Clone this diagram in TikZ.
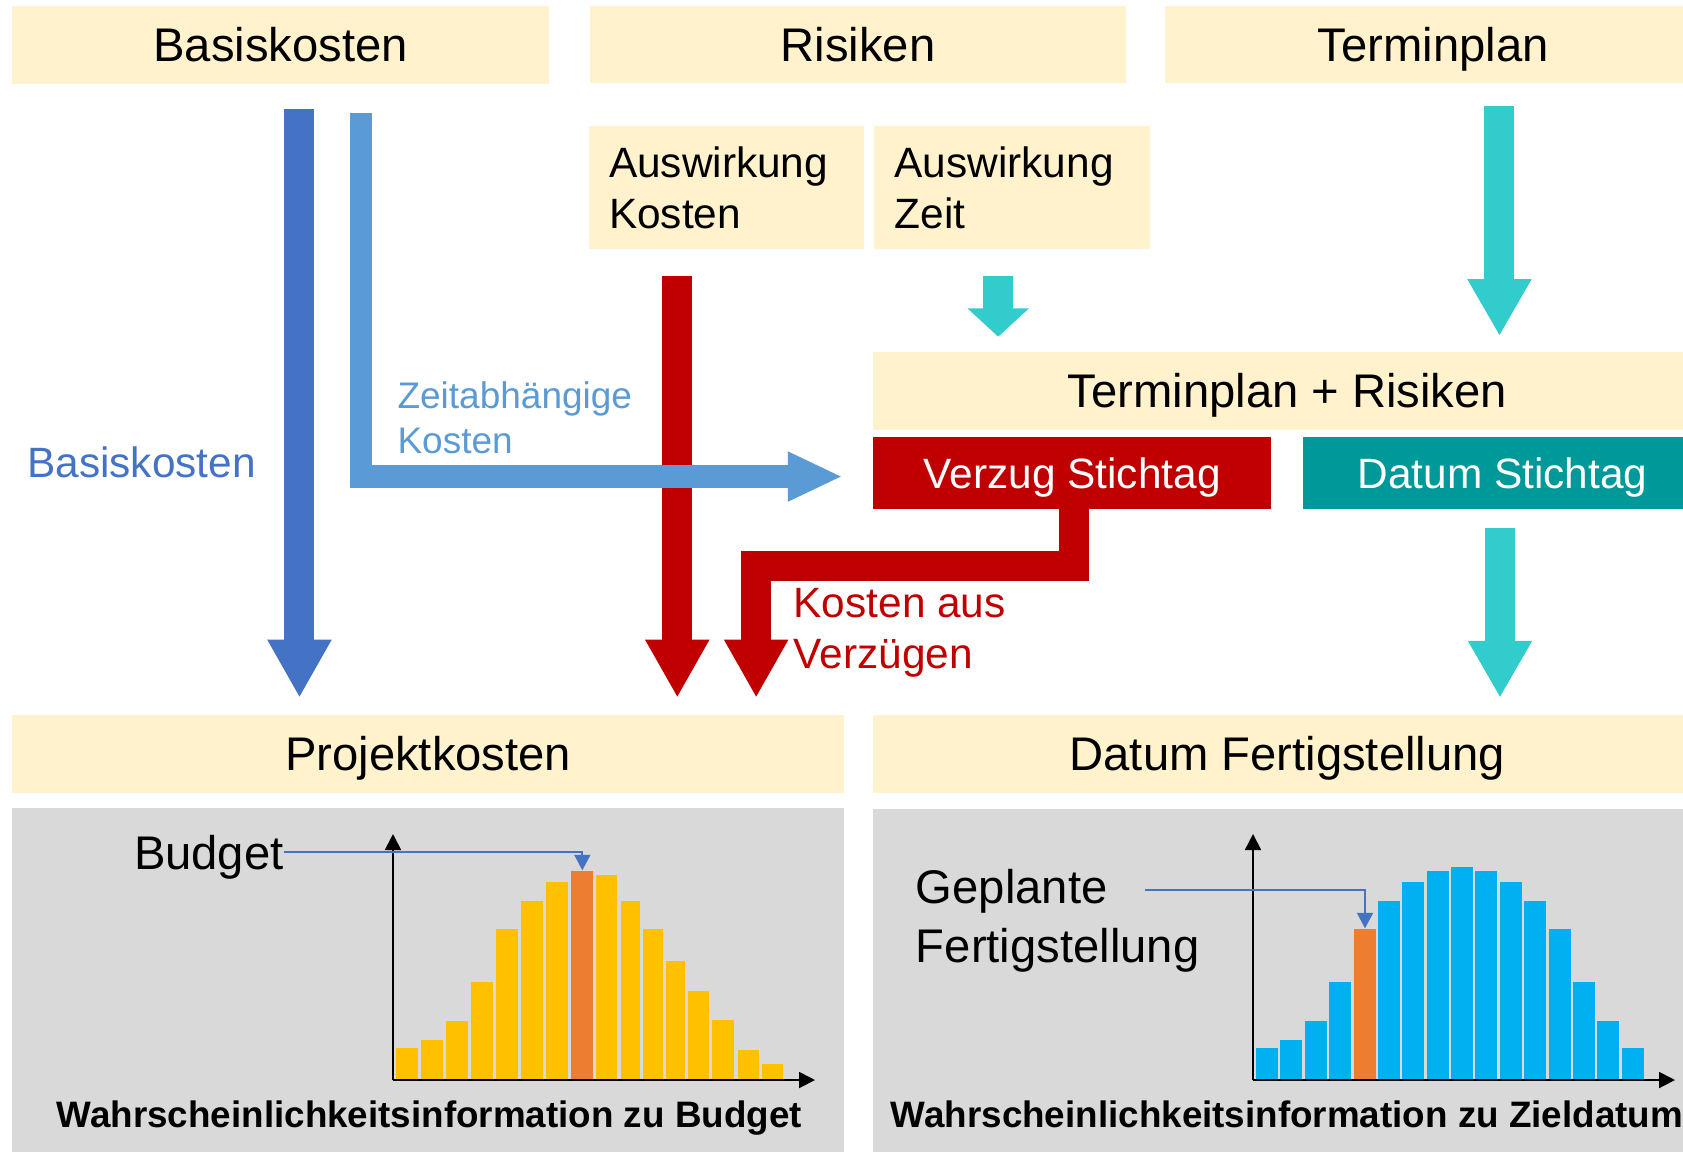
\documentclass[tikz,border=0pt]{standalone}
\usepackage{fontspec}
\setmainfont{Liberation Sans}
\usetikzlibrary{arrows.meta}
\definecolor{cream}{HTML}{FFF2CC}
\definecolor{dblue}{HTML}{4472C4}
\definecolor{lblue}{HTML}{5B9BD5}
\definecolor{dred}{HTML}{C00000}
\definecolor{turq}{HTML}{33CCCC}
\definecolor{tealbox}{HTML}{009999}
\definecolor{panel}{HTML}{D9D9D9}
\definecolor{gold}{HTML}{FFC000}
\definecolor{orng}{HTML}{ED7D31}
\definecolor{cyanbar}{HTML}{00B0F0}
\def\pu{0.53667pt}
\begin{document}
\begin{tikzpicture}[x=0.53667pt, y=-0.53667pt,
  bigf/.style={font=\fontsize{23.6pt}{28pt}\selectfont},
  medf/.style={font=\fontsize{21.2pt}{25.2pt}\selectfont},
  smallf/.style={font=\fontsize{18.5pt}{22.5pt}\selectfont},
  capf/.style={font=\fontsize{18.4pt}{22pt}\selectfont\bfseries},
  creambox/.style={fill=cream, inner sep=0pt, anchor=north west, bigf, text height=16.9pt, text depth=0pt},
  colbox/.style={inner sep=0pt, anchor=north west, medf, text=white, text height=15.2pt, text depth=0pt},
  impactbox/.style={fill=cream, inner sep=0pt, anchor=north west, medf, align=left, text width=117.5pt, minimum width=257*\pu, minimum height=115*\pu},
  panelbox/.style={fill=panel, inner sep=0pt, anchor=north west},
  fatarrow/.style={line width=15pt, line join=miter, -{Triangle[width=30pt,length=29pt]}},
  axisline/.style={line width=0.85pt, black, -{Triangle[width=8pt,length=8pt]}},
  pointer/.style={line width=1pt, dblue, -{Triangle[width=8pt,length=7.8pt]}},
  freelabel/.style={inner sep=0pt, anchor=west}
]
\useasboundingbox (0,0) rectangle (1568,1072.4);

% top row
\node[creambox, minimum width=500*\pu, minimum height=73*\pu] (basis) at (11,5) {Basiskosten};
\node[creambox, minimum width=500*\pu, minimum height=72*\pu] (risk) at (549,5) {Risiken};
\node[creambox, minimum width=500*\pu, minimum height=72*\pu] (term) at (1085,5) {Terminplan};

% impact boxes
\node[impactbox] (impcost) at (548,117) {Auswirkung\\Kosten};
\node[impactbox] (imptime) at (814,117) {Auswirkung\\Zeit};

% middle boxes
\node[creambox, minimum width=772*\pu, minimum height=72*\pu] (termrisk) at (813,328) {Terminplan + Risiken};
\node[colbox, fill=dred, minimum width=371*\pu, minimum height=67*\pu] (verzug) at (813,407) {Verzug Stichtag};
\node[colbox, fill=tealbox, minimum width=371*\pu, minimum height=67*\pu] (datum) at (1214,407) {Datum Stichtag};

% bottom boxes
\node[creambox, minimum width=775*\pu, minimum height=72*\pu] (projcost) at (11,666) {Projektkosten};
\node[creambox, minimum width=772*\pu, minimum height=72*\pu] (finish) at (813,666) {Datum Fertigstellung};
\node[panelbox, minimum width=775*\pu, minimum height=330*\pu] (panelL) at (11,752) {};
\node[panelbox, minimum width=772*\pu, minimum height=330*\pu] (panelR) at (813,753) {};

% arrow end points
\coordinate (bkS) at (279,102);   \coordinate (bkE) at (279,650);
\coordinate (zkS) at (336.5,105); \coordinate (zkE) at (785,444);
\coordinate (rcS) at (631,257);   \coordinate (rcE) at (631,650);
\coordinate (rtS) at (930,257);   \coordinate (rtE) at (930,313.7);
\coordinate (tpS) at (1397,98.8); \coordinate (tpE) at (1397,313);
\coordinate (dsS) at (1397.5,492);\coordinate (dsE) at (1397.5,650);
\coordinate (vzS) at (1001,474);  \coordinate (vzE) at (704.5,650);

% arrows
\draw[fatarrow, dblue] (bkS) -- (bkE);
\draw[fatarrow, dred] (rcS) -- (rcE);
\draw[lblue, line width=11.3pt, line join=miter, -{Triangle[width=23pt,length=27.4pt]}] (zkS) |- (zkE);
\draw[turq, line width=15pt, -{Triangle[width=30pt,length=14.2pt]}] (rtS) -- (rtE);
\draw[fatarrow, turq, -{Triangle[width=30pt,length=28.4pt]}] (tpS) -- (tpE);
\draw[fatarrow, turq, -{Triangle[width=30pt,length=28.4pt]}] (dsS) -- (dsE);
\draw[fatarrow, dred] (vzS) -- (1001,527.5) -| (vzE);

% free labels
\node[freelabel, medf, dblue, text height=15.2pt, text depth=0pt] (lblbasis) at (25,431) {Basiskosten};
\node[freelabel, smallf, lblue, align=left] (lblzeit) at (370,389) {Zeitabhängige\\Kosten};
\node[freelabel, medf, dred, align=left] (lblverz) at (739,589.6) {Kosten aus\\Verzügen};

% left histogram
\begin{scope}[shift={(195pt,-410pt)}, x=0.16667pt, y=-0.16667pt]
  \fill[gold] (18,684) rectangle (84,778);
  \fill[gold] (93,660) rectangle (159,778);
  \fill[gold] (168,603) rectangle (234,778);
  \fill[gold] (243,486) rectangle (309,778);
  \fill[gold] (318,327) rectangle (384,778);
  \fill[gold] (393,243) rectangle (459,778);
  \fill[gold] (468,186) rectangle (534,778);
  \fill[orng] (543,153) rectangle (609,778);
  \fill[gold] (618,165) rectangle (681,778);
  \fill[gold] (693,243) rectangle (750,778);
  \fill[gold] (759,327) rectangle (819,778);
  \fill[gold] (828,423) rectangle (885,778);
  \fill[gold] (894,513) rectangle (957,778);
  \fill[gold] (966,600) rectangle (1032,778);
  \fill[gold] (1044,690) rectangle (1107,778);
  \fill[gold] (1116,732) rectangle (1179,778);
  \coordinate (lorig) at (9,780);
  \coordinate (lytip) at (9,42);
  \coordinate (lxtip) at (1275,780);
  \coordinate (btop) at (577,151);
  \draw[axisline] (lorig) -- (lytip);
  \draw[axisline] (lorig) -- (lxtip);
\end{scope}

% right histogram
\begin{scope}[shift={(625pt,-410pt)}, x=0.16667pt, y=-0.16667pt]
  \fill[cyanbar] (18,684) rectangle (84,778);
  \fill[cyanbar] (90,660) rectangle (156,778);
  \fill[cyanbar] (165,603) rectangle (231,778);
  \fill[cyanbar] (237,486) rectangle (303,778);
  \fill[orng] (312,327) rectangle (378,778);
  \fill[cyanbar] (384,243) rectangle (450,778);
  \fill[cyanbar] (456,186) rectangle (522,778);
  \fill[cyanbar] (531,153) rectangle (597,778);
  \fill[cyanbar] (603,141) rectangle (669,778);
  \fill[cyanbar] (675,153) rectangle (741,778);
  \fill[cyanbar] (750,186) rectangle (816,778);
  \fill[cyanbar] (822,243) rectangle (888,778);
  \fill[cyanbar] (897,327) rectangle (963,778);
  \fill[cyanbar] (969,486) rectangle (1035,778);
  \fill[cyanbar] (1041,603) rectangle (1107,778);
  \fill[cyanbar] (1116,684) rectangle (1182,778);
  \coordinate (rorig) at (9,780);
  \coordinate (rytip) at (9,42);
  \coordinate (rxtip) at (1275,780);
  \coordinate (gtop) at (345,325);
  \draw[axisline] (rorig) -- (rytip);
  \draw[axisline] (rorig) -- (rxtip);
\end{scope}

% histogram labels and pointers
\node[inner sep=0pt, anchor=east, bigf, text height=16.9pt, text depth=0pt] (budget) at (264.6,794) {Budget};
\draw[pointer] (budget.east) -| (btop);
\node[freelabel, bigf, align=left, font=\fontsize{23.6pt}{29.5pt}\selectfont] (geplant) at (853,858) {Geplante\\Fertigstellung};
\coordinate (gstart) at (1066.6,829.2);
\draw[pointer] (gstart) -| (gtop);

\node[inner sep=0pt, capf, text height=13.2pt, text depth=0pt] (capL) at (400,1038) {Wahrscheinlichkeitsinformation zu Budget};
\node[inner sep=0pt, capf, text height=13.2pt, text depth=0pt] (capR) at (1199,1038) {Wahrscheinlichkeitsinformation zu Zieldatum};
\end{tikzpicture}
\end{document}
